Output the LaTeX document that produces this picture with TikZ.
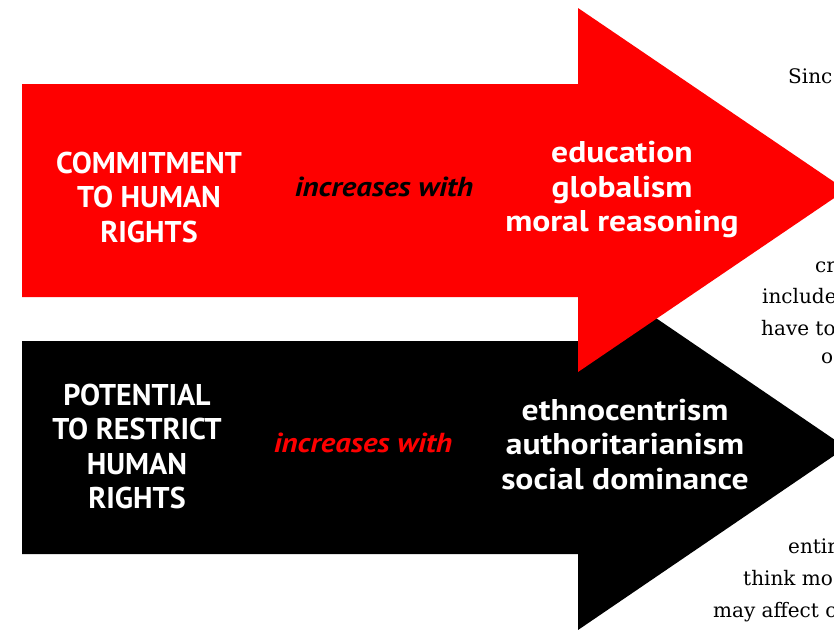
\documentclass[tikz,border=0pt]{standalone}
\usepackage{fontspec}
\newfontfamily\headfont{PT Sans}
\newfontfamily\widefont{PT Sans}[FakeStretch=1.12]
\newfontfamily\notefont{DejaVu Serif}
\definecolor{arrowred}{HTML}{FE0000}
\begin{document}
\begin{tikzpicture}[x=1pt,y=-1pt,
  label/.style={align=center,text=white,font=\headfont\bfseries\fontsize{30}{34.5}\selectfont},
  wordlist/.style={align=center,text=white,font=\widefont\bfseries\fontsize{30}{34.5}\selectfont},
  link/.style={font=\widefont\bfseries\itshape\fontsize{27.5}{30}\selectfont},
  note/.style={anchor=base west,inner sep=0pt,font=\notefont\fontsize{20}{24}\selectfont}]
\useasboundingbox (0,0) rectangle (834,629);
\clip (0,0) rectangle (834,629);
% lower arrow (drawn first, lies beneath the upper one)
\fill[black] (22,341) -- (578,341) -- (578,265) -- (846,447.5) -- (578,630)
  -- (578,554) -- (22,554) -- cycle;
% upper arrow
\fill[arrowred] (22,84) -- (578,84) -- (578,8) -- (846,190) -- (578,372)
  -- (578,297) -- (22,297) -- cycle;
% upper arrow labels
\node[label] (commit) at (149,197) {COMMITMENT\\TO HUMAN\\RIGHTS};
\node[link,text=black] (incA) at (384,187) {increases with};
\node[wordlist] (pos) at (622,190) {education\\globalism\\moral reasoning};
% lower arrow labels
\node[label] (restrict) at (137,446.5) {POTENTIAL\\TO RESTRICT\\HUMAN\\RIGHTS};
\node[link,text=arrowred] (incB) at (363,443) {increases with};
\node[wordlist] (neg) at (625,444.5) {ethnocentrism\\authoritarianism\\social dominance};
% running text at the right edge
\node[note] (n1) at (788,83) {Sinc};
\node[note] (n2) at (815,272) {cr};
\node[note] (n3) at (762,303) {include};
\node[note] (n4) at (761,335) {have to};
\node[note] (n5) at (821,363) {o};
\node[note] (n6) at (788,553) {entir};
\node[note] (n7) at (743,585) {think mo};
\node[note] (n8) at (713,617) {may affect c};
\end{tikzpicture}
\end{document}
